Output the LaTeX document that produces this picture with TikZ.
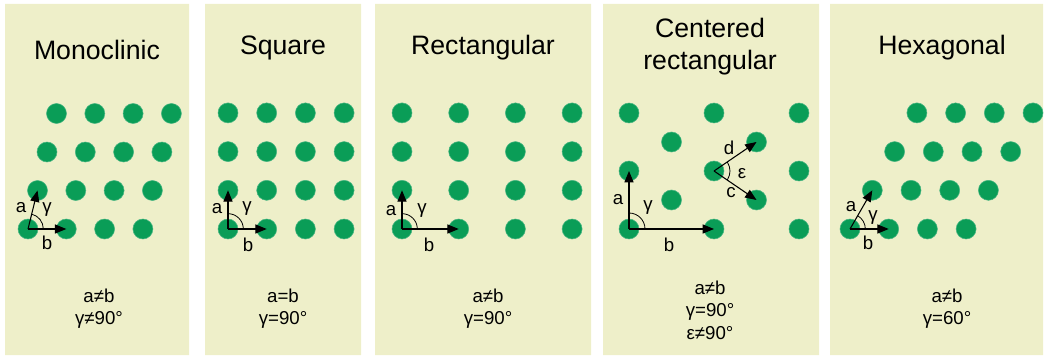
\documentclass[tikz,border=0pt]{standalone}
\usepackage{fontspec}
\setmainfont{Liberation Sans}
\usetikzlibrary{arrows.meta,angles}
\definecolor{panelbg}{HTML}{EEEFC9}
\definecolor{dotgreen}{HTML}{0A9D57}

\begin{document}
\begin{tikzpicture}[x=0.75pt,y=-0.75pt,
  dot/.style={circle,fill=dotgreen,draw=dotgreen!75!white,line width=0.4pt,inner sep=0pt,minimum size=15pt},
  vec/.style={-{Triangle[length=8.5pt,width=6.8pt]},line width=0.8pt},
  ang/.style={draw,line width=0.6pt,angle radius=11.5pt},
  ttl/.style={font=\fontsize{20}{24}\selectfont,align=center},
  txt/.style={font=\fontsize{14}{17}\selectfont,align=center},
  lbl/.style={font=\fontsize{14}{16}\selectfont,inner sep=0pt}]
\useasboundingbox (0,0) rectangle (1044,356);
% panels
\fill[panelbg] (5,4) rectangle (189,355)
  (205,4) rectangle (361,355)
  (375,4) rectangle (591,355)
  (603,4) rectangle (819,355)
  (830,4) rectangle (1043,355);
% monoclinic
\node[ttl] (t1) at (97,50) {Monoclinic};
\foreach \r in {0,...,3}
  \foreach \c in {0,...,3}
    \node[dot] (m\r\c) at ({28+38.3*\c+9.5*\r},{229-38.5*\r}) {};
\draw[vec] (m00.center) -- (m10.center);
\draw[vec] (m00.center) -- (m01.center);
\pic[ang] {angle=m01--m00--m10};
\node[lbl] (ma) at (21,208) {a};
\node[lbl] (mg) at (47,210) {γ};
\node[lbl] (mb) at (47,243) {b};
\node[txt] (p1) at (99,308.5) {a≠b\\γ≠90°};
% square
\node[ttl] (t2) at (283,48) {Square};
\foreach \r in {0,...,3}
  \foreach \c in {0,...,3}
    \node[dot] (s\r\c) at ({228+38.7*\c},{229-38.7*\r}) {};
\draw[vec] (s00.center) -- (s10.center);
\draw[vec] (s00.center) -- (s01.center);
\pic[ang] {angle=s01--s00--s10};
\node[lbl] (sa) at (217,209) {a};
\node[lbl] (sg) at (247,208) {γ};
\node[lbl] (sb) at (248,245) {b};
\node[txt] (p2) at (283,308.5) {a=b\\γ=90°};
% rectangular
\node[ttl] (t3) at (483,48) {Rectangular};
\foreach \r in {0,...,3}
  \foreach \c in {0,...,3}
    \node[dot] (r\r\c) at ({402+56.7*\c},{229-38.7*\r}) {};
\draw[vec] (r00.center) -- (r10.center);
\draw[vec] (r00.center) -- (r01.center);
\pic[ang] {angle=r01--r00--r10};
\node[lbl] (ra) at (391,211) {a};
\node[lbl] (rg) at (422,211) {γ};
\node[lbl] (rb) at (429,245) {b};
\node[txt] (p3) at (488,308.5) {a≠b\\γ=90°};
% centered rectangular
\node[ttl] (t4) at (710,47) {Centered\\rectangular};
\foreach \r in {0,...,2}
  \foreach \c in {0,...,2}
    \node[dot] (k\r\c) at ({629+85*\c},{229-58*\r}) {};
\foreach \r in {0,1}
  \foreach \c in {0,1}
    \node[dot] (z\r\c) at ({671.5+85*\c},{200-58*\r}) {};
\draw[vec] (k00.center) -- (k10.center);
\draw[vec] (k00.center) -- (k01.center);
\draw[vec] (k11.center) -- (z11.center);
\draw[vec] (k11.center) -- (z01.center);
\pic[ang,angle radius=12pt] {angle=k01--k00--k10};
\pic[ang,angle radius=12pt] {angle=z01--k11--z11};
\node[lbl] (ka) at (618,200) {a};
\node[lbl] (kg) at (648,207) {γ};
\node[lbl] (kb) at (669,245) {b};
\node[lbl] (kd) at (729,148) {d};
\node[lbl] (ke) at (742,174) {ε};
\node[lbl] (kc) at (731,193) {c};
\node[txt] (p4) at (710,310) {a≠b\\γ=90°\\ε≠90°};
% hexagonal
\node[ttl] (t5) at (942,48) {Hexagonal};
\foreach \r in {0,...,3}
  \foreach \c in {0,...,3}
    \node[dot] (h\r\c) at ({850+38.7*\c+22.3*\r},{229-38.7*\r}) {};
\draw[vec] (h00.center) -- (h10.center);
\draw[vec] (h00.center) -- (h01.center);
\pic[ang] {angle=h01--h00--h10};
\node[lbl] (ha) at (851,207) {a};
\node[lbl] (hg) at (873,217) {γ};
\node[lbl] (hb) at (868,243) {b};
\node[txt] (p5) at (947,308.5) {a≠b\\γ=60°};
\end{tikzpicture}
\end{document}
